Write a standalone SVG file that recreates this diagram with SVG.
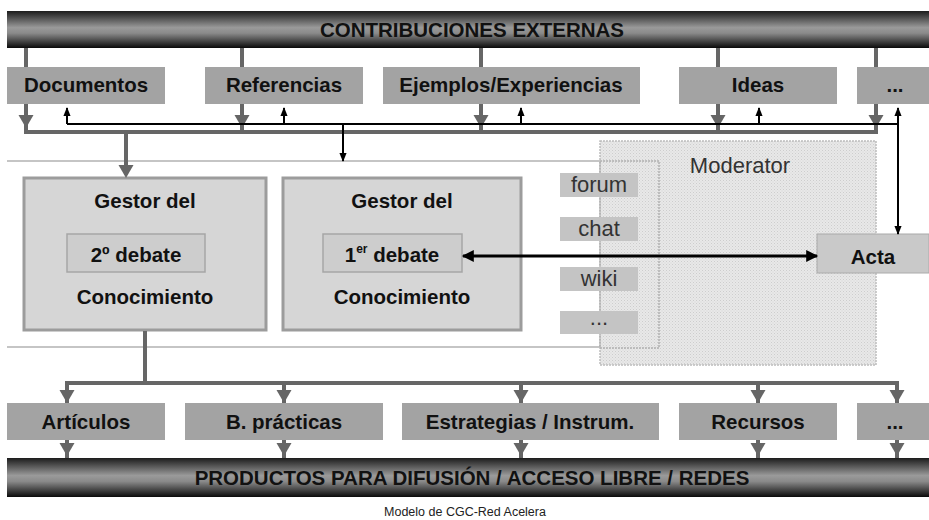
<svg xmlns="http://www.w3.org/2000/svg" width="929" height="520" viewBox="0 0 929 520">
<style>
.lbl{font-family:"Liberation Sans",Arial,sans-serif;font-weight:bold;font-size:20.5px;fill:#111;text-anchor:middle}
.reg{font-family:"Liberation Sans",Arial,sans-serif;font-size:22px;fill:#333;text-anchor:middle}
.box{fill:#a3a3a3}
.gestor{fill:#d6d6d6;stroke:#9c9c9c;stroke-width:3}
.inner{fill:#cdcdcd;stroke:#a6a6a6;stroke-width:1.5}
.tool{fill:#c4c4c4}
.gl{stroke:#666;stroke-width:4;fill:none}
.bl{stroke:#000;stroke-width:2;fill:none}
.thin{stroke:#b3b3b3;stroke-width:1.5;fill:none}
</style>
<defs>
<linearGradient id="bar" x1="0" y1="0" x2="0" y2="1">
<stop offset="0" stop-color="#1c1c1c"/>
<stop offset="0.45" stop-color="#9a9a9a"/>
<stop offset="0.6" stop-color="#8a8a8a"/>
<stop offset="1" stop-color="#0a0a0a"/>
</linearGradient>
<pattern id="hatch" width="3" height="3" patternUnits="userSpaceOnUse">
<rect width="3" height="3" fill="#e8e8e8"/>
<rect width="1" height="1" fill="#cdcdcd"/>
<rect x="1.5" y="1.5" width="1" height="1" fill="#d6d6d6"/>
</pattern>
<marker id="bk" viewBox="0 0 10 10" refX="9" refY="5" markerWidth="9" markerHeight="9" markerUnits="userSpaceOnUse" orient="auto-start-reverse">
<path d="M0 1 L10 5 L0 9 Z" fill="#000"/>
</marker>
<marker id="bk2" viewBox="0 0 10 10" refX="9" refY="5" markerWidth="13" markerHeight="12" markerUnits="userSpaceOnUse" orient="auto-start-reverse">
<path d="M0 0 L10 5 L0 10 Z" fill="#000"/>
</marker>
<path id="gt" d="M-7.5 -6 H7.5 L0 7 Z" fill="#666"/>
</defs>

<!-- background lines and moderator zone -->
<path class="thin" d="M7 161 H600 M7 347 H600"/>
<g id="moderator">
<rect x="600" y="141" width="276" height="224" fill="url(#hatch)" stroke="#bdbdbd" stroke-width="1.5" stroke-dasharray="2 1"/>
<rect x="600" y="161" width="59" height="187" fill="none" stroke="#b0b0b0" stroke-width="1.5" stroke-dasharray="2 1"/>
<text class="reg" x="740" y="173">Moderator</text>
</g>

<g id="bar-top">
<rect x="7" y="11" width="922" height="37" fill="url(#bar)"/>
<text class="lbl" x="472" y="37">CONTRIBUCIONES EXTERNAS</text>
</g>
<g id="documentos"><rect class="box" x="7" y="67" width="158" height="37"/><text class="lbl" x="86" y="92">Documentos</text></g>
<g id="referencias"><rect class="box" x="205" y="67" width="158" height="37"/><text class="lbl" x="284" y="92">Referencias</text></g>
<g id="ejemplos"><rect class="box" x="383" y="67" width="257" height="37"/><text class="lbl" x="511" y="92">Ejemplos/Experiencias</text></g>
<g id="ideas"><rect class="box" x="679" y="67" width="158" height="37"/><text class="lbl" x="758" y="92">Ideas</text></g>
<g id="mas-top"><rect class="box" x="857" y="67" width="72" height="37"/><text class="lbl" x="895" y="92">...</text></g>

<g id="gestor2">
<rect class="gestor" x="24" y="178" width="242" height="152"/>
<text class="lbl" x="145" y="208">Gestor del</text>
<rect class="inner" x="67" y="234" width="138" height="38"/>
<text class="lbl" x="136" y="262">2º debate</text>
<text class="lbl" x="145" y="304">Conocimiento</text>
</g>
<g id="gestor1">
<rect class="gestor" x="283" y="178" width="238" height="152"/>
<text class="lbl" x="402" y="208">Gestor del</text>
<rect class="inner" x="323" y="234" width="139" height="38"/>
<text class="lbl" x="392" y="262">1<tspan font-size="12" dy="-9">er</tspan><tspan dy="9"> debate</tspan></text>
<text class="lbl" x="402" y="304">Conocimiento</text>
</g>

<g id="forum"><rect class="tool" x="560" y="173" width="78" height="24"/><text class="reg" x="599" y="192">forum</text></g>
<g id="chat"><rect class="tool" x="560" y="217" width="78" height="24"/><text class="reg" x="599" y="236">chat</text></g>
<g id="wiki"><rect class="tool" x="560" y="267" width="78" height="24"/><text class="reg" x="599" y="286">wiki</text></g>
<g id="mas-tool"><rect class="tool" x="560" y="311" width="78" height="23"/><text class="reg" x="599" y="325" font-size="12" fill="#777">...</text></g>

<g id="acta"><rect x="817" y="234" width="112" height="39" fill="#c9c9c9" stroke="#aaa" stroke-width="1"/><text class="lbl" x="873" y="264">Acta</text></g>

<g id="articulos"><rect class="box" x="7" y="403" width="158" height="37"/><text class="lbl" x="86" y="429">Artículos</text></g>
<g id="bpracticas"><rect class="box" x="185" y="403" width="198" height="37"/><text class="lbl" x="284" y="429">B. prácticas</text></g>
<g id="estrategias"><rect class="box" x="402" y="403" width="257" height="37"/><text class="lbl" x="530" y="429">Estrategias / Instrum.</text></g>
<g id="recursos"><rect class="box" x="679" y="403" width="158" height="37"/><text class="lbl" x="758" y="429">Recursos</text></g>
<g id="mas-bottom"><rect class="box" x="857" y="403" width="72" height="37"/><text class="lbl" x="895" y="429">...</text></g>

<g id="bar-bottom">
<rect x="7" y="458" width="922" height="39" fill="url(#bar)"/>
<text class="lbl" x="472" y="485">PRODUCTOS PARA DIFUSIÓN / ACCESO LIBRE / REDES</text>
</g>

<g id="connectors">
<path class="gl" stroke="#5e5e5e" d="M26 48 V67 M242 48 V67 M481 48 V67 M718 48 V67 M876 48 V67"/>
<path class="gl" d="M26 104 V132 M242 104 V132 M481 104 V132 M718 104 V132 M876 104 V132 M24 132 H878"/>
<use href="#gt" x="26" y="121"/><use href="#gt" x="242" y="121"/><use href="#gt" x="481" y="121"/><use href="#gt" x="718" y="121"/><use href="#gt" x="876" y="121"/>
<path class="bl" d="M67 124 H898"/>
<path class="bl" marker-end="url(#bk)" d="M67 124 V108"/>
<path class="bl" marker-end="url(#bk)" d="M284 124 V108"/>
<path class="bl" marker-end="url(#bk)" d="M521 124 V108"/>
<path class="bl" marker-end="url(#bk)" d="M759 124 V108"/>
<path class="bl" marker-end="url(#bk)" d="M898 124 V108"/>
<path class="bl" marker-end="url(#bk)" d="M898 124 V234"/>
<path class="bl" marker-end="url(#bk)" d="M343 124 V161"/>
<path class="gl" stroke-width="5" d="M126 132 V172"/>
<use href="#gt" x="126" y="171"/>
<path stroke="#000" stroke-width="3" fill="none" marker-start="url(#bk2)" marker-end="url(#bk2)" d="M463 256 H817"/>
<path class="gl" stroke-width="5" d="M145 331 V383"/>
<path class="gl" d="M65 383 H899 M67 383 V403 M284 383 V403 M521 383 V403 M758 383 V403 M897 383 V403"/>
<use href="#gt" x="67" y="396"/><use href="#gt" x="284" y="396"/><use href="#gt" x="521" y="396"/><use href="#gt" x="758" y="396"/><use href="#gt" x="897" y="396"/>
<path class="gl" d="M67 440 V458 M284 440 V458 M521 440 V458 M758 440 V458 M897 440 V458"/>
<use href="#gt" x="67" y="449"/><use href="#gt" x="284" y="449"/><use href="#gt" x="521" y="449"/><use href="#gt" x="758" y="449"/><use href="#gt" x="897" y="449"/>
</g>

<text x="465" y="516" font-family="'Liberation Sans',Arial,sans-serif" font-size="12.5" fill="#222" text-anchor="middle">Modelo de CGC-Red Acelera</text>
</svg>
